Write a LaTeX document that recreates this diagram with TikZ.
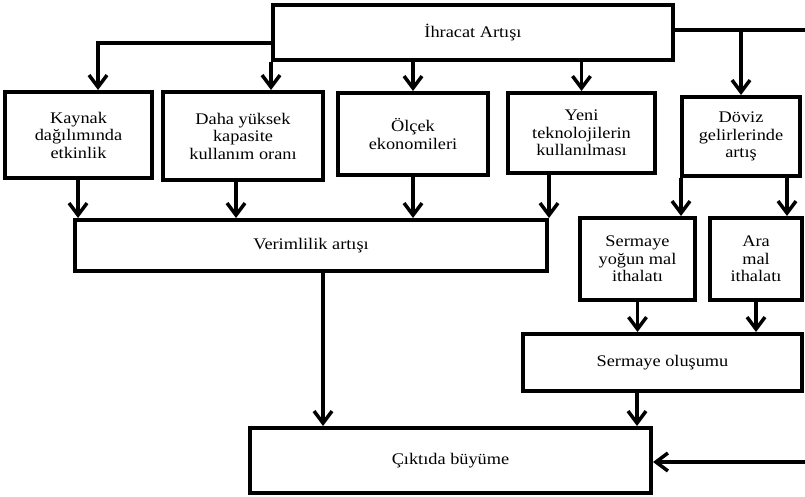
\documentclass[tikz,border=0pt]{standalone}
\usepackage{fontspec}
\setmainfont[FakeStretch=1.13]{Liberation Serif}
\usetikzlibrary{arrows.meta,calc}
\begin{document}
\begin{tikzpicture}[x=1pt,y=-1pt,
  box/.style={draw=black,line width=4pt,fill=white,align=center,inner sep=0pt,
    font=\fontsize{16.2}{17.5}\selectfont},
  arr/.style={line width=3.5pt,-{Straight Barb[length=12pt,width=18pt,line width=3.5pt]}},
  ln/.style={line width=3.5pt}]
\useasboundingbox (0,0) rectangle (805,497);
\fill[white] (0,0) rectangle (805,497);
% nodes
\node[box,minimum width=400pt,minimum height=55pt] (top) at (473,32.5) {İhracat Artışı};
\node[box,minimum width=147pt,minimum height=86pt] (k) at (78.5,135) {Kaynak\\dağılımında\\etkinlik};
\node[box,minimum width=160pt,minimum height=88pt] (d) at (243,136) {Daha yüksek\\kapasite\\kullanım oranı};
\node[box,minimum width=150pt,minimum height=82pt] (o) at (413,134) {Ölçek\\ekonomileri};
\node[box,minimum width=147pt,minimum height=80pt] (y) at (581.5,133) {Yeni\\teknolojilerin\\kullanılması};
\node[box,minimum width=118pt,minimum height=79pt] (dv) at (741,136.5) {Döviz\\gelirlerinde\\artış};
\node[box,minimum width=472pt,minimum height=51pt] (v) at (311,245.5) {Verimlilik artışı};
\node[box,minimum width=115pt,minimum height=82pt] (sy) at (637.5,259) {Sermaye\\yoğun mal\\ithalatı};
\node[box,minimum width=92pt,minimum height=82pt] (am) at (756,259) {Ara\\mal\\ithalatı};
\node[box,minimum width=279pt,minimum height=57pt] (so) at (662.5,362.5) {Sermaye oluşumu};
\node[box,minimum width=401pt,minimum height=65pt] (c) at (450.5,460.5) {Çıktıda büyüme};
\coordinate (rtop) at (805,30);
\coordinate (rbot) at (805,462);
% connectors from top
\draw[arr] ([yshift=-10.5pt]top.west) -| ([xshift=19.5pt]k.north);
\draw[arr] (top.south west) -- (top.south west |- d.north);
\draw[arr] (o.north |- top.south) -- (o.north);
\draw[arr] (y.north |- top.south) -- (y.north);
\draw[ln] (top.east |- rtop) -- (rtop);
\draw[arr] (dv.north |- rtop) -- (dv.north);
% into Verimlilik
\draw[arr] ([xshift=-0.5pt]k.south) -- ([xshift=-0.5pt]k.south |- v.north);
\draw[arr] ([xshift=-7pt]d.south) -- ([xshift=-7pt]d.south |- v.north);
\draw[arr] (o.south) -- (o.south |- v.north);
\draw[arr] (v.north east |- y.south) -- (v.north east);
% from Doviz
\draw[arr] ([xshift=1pt]dv.south west) -- ([xshift=1pt]dv.south west |- sy.north);
\draw[arr] ([xshift=46pt]dv.south) -- ([xshift=46pt]dv.south |- am.north);
% into Sermaye olusumu
\draw[arr] (sy.south) -- (sy.south |- so.north);
\draw[arr] (am.south) -- (am.south |- so.north);
% into Ciktida
\draw[arr] ([xshift=12pt]v.south) -- ([xshift=12pt]v.south |- c.north);
\draw[arr] ([xshift=-25.5pt]so.south) -- ([xshift=-25.5pt]so.south |- c.north);
\draw[arr] (rbot) -- (c.east |- rbot);
\end{tikzpicture}
\end{document}
